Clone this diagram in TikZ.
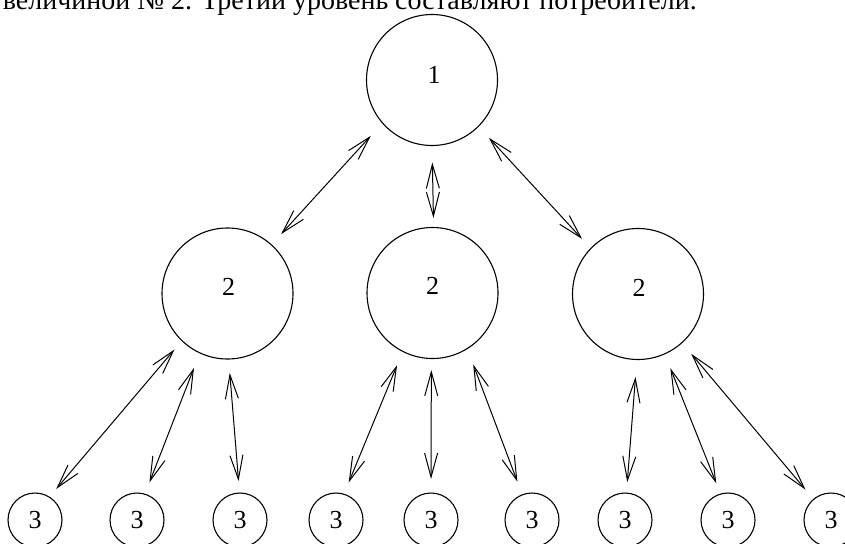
\documentclass[tikz,border=0pt]{standalone}
\usepackage{fontspec}
\setmainfont{Liberation Serif}
\usetikzlibrary{arrows.meta}

\tikzset{
  digits/.style={font=\fontsize{26}{30}\selectfont},
  level/.style={circle, draw, line width=1.1pt, inner sep=0pt, outer sep=0pt, digits},
  bigunit/.style={level, minimum size=131pt},
  smallunit/.style={level, minimum size=54pt},
  every label/.append style={digits, inner sep=0pt},
  link/.style={line width=1pt,
    {Straight Barb[length=24pt,width=13pt]}-{Straight Barb[length=24pt,width=13pt]}},
  caption/.style={font=\fontsize{28}{32}\selectfont, inner sep=0pt, anchor=base east}
}

\begin{document}
\begin{tikzpicture}[x=1pt, y=-1pt]
  \useasboundingbox (0,0) rectangle (845,543);
  \clip (0,0) rectangle (845,543);

  % running text above the scheme
  \node[caption] (cap) at (697,10)
    {величиной № 2. Третий уровень составляют потребители.};

  % level 1
  \node[bigunit, label={[name=lt, yshift=5pt, xshift=2pt]center:1}] (t) at (432,80) {};

  % level 2
  \node[bigunit, label={[name=lm1, yshift=7pt, xshift=1pt]center:2}] (m1) at (227.5,293.5) {};
  \node[bigunit, label={[name=lm2, yshift=7pt]center:2}] (m2) at (432.5,293) {};
  \node[bigunit, label={[name=lm3, yshift=6pt, xshift=1pt]center:2}] (m3) at (638,294) {};

  % level 3
  \node[smallunit] (b1) at (35,520) {3};
  \node[smallunit] (b2) at (137,520) {3};
  \node[smallunit] (b3) at (240,520) {3};
  \node[smallunit] (b4) at (336,520) {3};
  \node[smallunit] (b5) at (431,520) {3};
  \node[smallunit] (b6) at (532,520) {3};
  \node[smallunit] (b7) at (625,520) {3};
  \node[smallunit] (b8) at (728,520) {3};
  \node[smallunit] (b9) at (831,520) {3};

  % links between level 1 and level 2
  \draw[link, shorten <=17.4pt, shorten >=14.5pt] (t.221.6) -- (m1.48);
  \draw[link, shorten <=17pt,   shorten >=9.5pt]  (t.270.7) -- (m2.89.2);
  \draw[link, shorten <=15.6pt, shorten >=13pt]   (t.315)   -- (m3.136.5);

  % links between level 2 and level 3
  \draw[link, shorten <=11.6pt, shorten >=10.7pt] (m1.226)   -- (b1.58);
  \draw[link, shorten <=16.2pt, shorten >=12.6pt] (m1.245.8) -- (b2.73.9);
  \draw[link, shorten <=14pt,   shorten >=12pt]   (m1.271.1) -- (b3.91.5);
  \draw[link, shorten <=15pt,   shorten >=12.6pt] (m2.243.4) -- (b4.73.9);
  \draw[link, shorten <=11.5pt, shorten >=14pt]   (m2.269.3) -- (b5.90);
  \draw[link, shorten <=17pt,   shorten >=14pt]   (m2.302.2) -- (b6.111.5);
  \draw[link, shorten <=17.5pt, shorten >=11pt]   (m3.269.3) -- (b7.87);
  \draw[link, shorten <=15.5pt, shorten >=11.6pt] (m3.294)   -- (b8.106.6);
  \draw[link, shorten <=14.5pt, shorten >=12.7pt] (m3.312.5) -- (b9.130.9);
\end{tikzpicture}
\end{document}
